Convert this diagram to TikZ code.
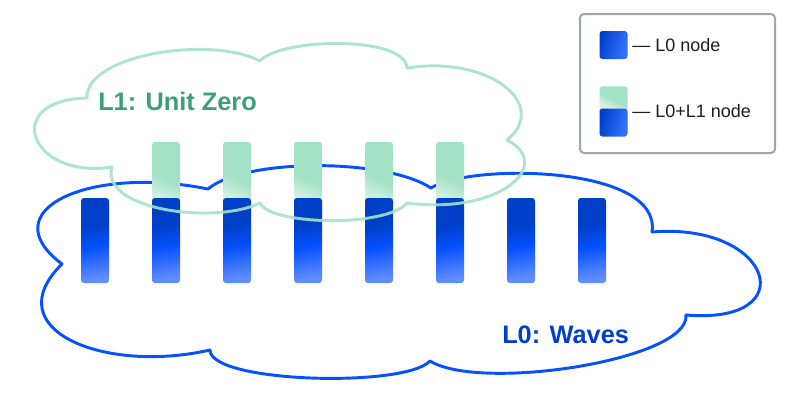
\documentclass[tikz,border=0pt]{standalone}
\usepackage{fontspec}
\setmainfont{Liberation Sans}
\usepackage{xcolor}
\usetikzlibrary{calc}
\definecolor{waveBlue}{RGB}{5,80,255}
\definecolor{waveDark}{RGB}{0,64,200}
\definecolor{waveLight}{RGB}{95,140,255}
\definecolor{unitGreen}{RGB}{163,226,198}
\definecolor{unitPale}{RGB}{210,240,226}
\definecolor{unitText}{RGB}{61,158,125}
\definecolor{legendGray}{RGB}{160,164,172}
\definecolor{legendText}{RGB}{30,30,30}
\pgfdeclareverticalshading{waveShade}{100bp}{color(0bp)=(waveLight); color(25bp)=(waveLight);
  color(46bp)=(waveBlue); color(60bp)=(waveDark); color(100bp)=(waveDark)}
\pgfdeclareverticalshading{unitShade}{100bp}{color(0bp)=(unitPale); color(33bp)=(unitPale);
  color(49bp)=(unitGreen); color(100bp)=(unitGreen)}
\tikzset{
  waveBar/.style={rounded corners=2.2pt,minimum width=21pt,minimum height=63.75pt,inner sep=0pt,
    shading=waveShade,shading angle=12},
  unitBar/.style={rounded corners=2.2pt,minimum width=21pt,minimum height=54pt,inner sep=0pt,
    shading=unitShade,shading angle=-25},
  cloudLine/.style={line width=2.2pt,line join=round},
  layerLabel/.style={font=\bfseries\fontsize{19}{22}\selectfont,inner sep=0pt,anchor=base west},
  legendLabel/.style={font=\fontsize{13.5}{16}\selectfont,text=legendText,inner sep=0pt,anchor=base west}
}

\begin{document}
\begin{tikzpicture}[x=0.75pt,y=-0.75pt]
\useasboundingbox (0,0) rectangle (794,393);
% L0 cloud
\draw[cloudLine,draw=waveBlue]
  (62,264) .. controls (-10,210) and (90,165) .. (208,189)
  .. controls (245,158) and (385,158) .. (431,188)
  .. controls (470,163) and (662,165) .. (652,232)
  .. controls (772,222) and (805,325) .. (686,315)
  .. controls (690,360) and (480,392) .. (430,361)
  .. controls (405,388) and (210,383) .. (210,350)
  .. controls (105,374) and (-5,330) .. (62,264) -- cycle;
% nodes
\foreach \i in {2,...,6}
  \node[unitBar] (u\i) at ({95+71*(\i-1)},178) {};
\foreach \i in {1,...,8}
  \node[waveBar] (w\i) at ({95+71*(\i-1)},240.5) {};
% L1 cloud
\draw[cloudLine,draw=unitGreen,opacity=0.9]
  (112,167) .. controls (30,180) and (0,100) .. (87,98)
  .. controls (85,55) and (210,35) .. (260,61)
  .. controls (280,38) and (405,35) .. (407,68)
  .. controls (490,55) and (550,105) .. (507,140)
  .. controls (555,165) and (500,215) .. (407,203)
  .. controls (385,228) and (270,225) .. (260,203)
  .. controls (215,225) and (100,210) .. (112,167) -- cycle;
\node[layerLabel,text=unitText] (l1) at (98,110) {L1: Unit Zero};
\node[layerLabel,text=waveDark] (l0) at (502,343) {L0: Waves};
% legend
\draw[legendGray,line width=1.5pt,rounded corners=3pt,fill=white] (580,14) rectangle (775,153);
\node[rounded corners=2.2pt,minimum width=21pt,minimum height=21pt,inner sep=0pt,
  left color=waveDark,right color=waveBlue!80,shading angle=75] (keyA) at (613.5,45) {};
\node[rounded corners=2.2pt,minimum width=21pt,minimum height=19pt,inner sep=0pt,
  shading=unitShade,shading angle=-25] (keyB1) at (613.5,99) {};
\node[rounded corners=2.2pt,minimum width=21pt,minimum height=21pt,inner sep=0pt,
  left color=waveDark,right color=waveBlue!80,shading angle=75] (keyB2) at (613.5,122.5) {};
\node[legendLabel] (keyAtext) at (632,51.5) {— L0 node};
\node[legendLabel] (keyBtext) at (632,117.3) {— L0+L1 node};
\end{tikzpicture}
\end{document}
